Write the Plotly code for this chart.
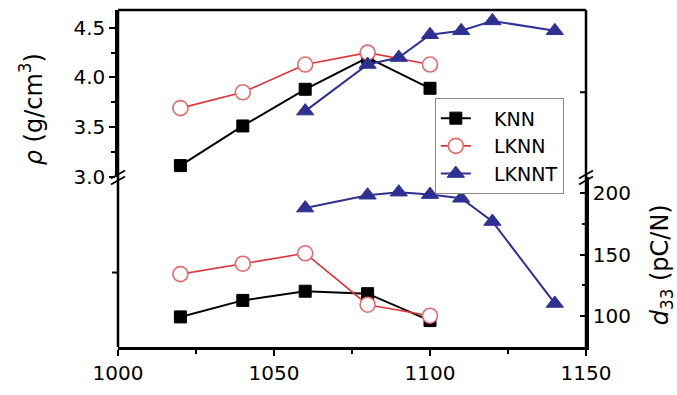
import plotly.graph_objects as go

# ---- data ----
x_knn = [1020, 1040, 1060, 1080, 1100]
x_lknn = [1020, 1040, 1060, 1080, 1100]
x_lknnt = [1060, 1080, 1090, 1100, 1110, 1120, 1140]

rho_knn = [3.11, 3.51, 3.88, 4.20, 3.89]
rho_lknn = [3.69, 3.85, 4.13, 4.25, 4.13]
rho_lknnt = [3.66, 4.13, 4.20, 4.43, 4.47, 4.57, 4.47]

d33_knn = [99, 112.5, 120, 118, 96]
d33_lknn = [134, 142.5, 151, 109, 100]
d33_lknnt = [188, 198.5, 201, 199, 196, 177, 110]

series_names = ["KNN", "LKNN", "LKNNT"]
x_ticks = [1000, 1050, 1100, 1150]
rho_ticks = [3.0, 3.5, 4.0, 4.5]
d33_ticks = [100, 150, 200]

# ---- styles ----
FONT = "DejaVu Sans"
BLACK = "#000000"
RED = "#e0343a"
BLUE = "#2e3192"
styles = {
    "KNN": dict(line=dict(color=BLACK, width=2),
                marker=dict(symbol="square", size=12, color=BLACK, line=dict(color=BLACK, width=1))),
    "LKNN": dict(line=dict(color=RED, width=1.6),
                 marker=dict(symbol="circle", size=15, color="white", line=dict(color="#e26a6a", width=1.6))),
    "LKNNT": dict(line=dict(color=BLUE, width=2),
                  marker=dict(symbol="triangle-up", size=15, color=BLUE, line=dict(color=BLUE, width=1))),
}

fig = go.Figure()
data = {
    "KNN": (x_knn, rho_knn, d33_knn),
    "LKNN": (x_lknn, rho_lknn, d33_lknn),
    "LKNNT": (x_lknnt, rho_lknnt, d33_lknnt),
}
for name in series_names:
    xs, rho, d33 = data[name]
    st = styles[name]
    fig.add_trace(go.Scatter(x=xs, y=rho, mode="lines+markers", name="   " + name, legendgroup=name,
                             line=st["line"], marker=st["marker"], xaxis="x", yaxis="y"))
    fig.add_trace(go.Scatter(x=xs, y=d33, mode="lines+markers", name=name, legendgroup=name,
                             showlegend=False, line=st["line"], marker=st["marker"],
                             xaxis="x", yaxis="y2"))

BRK = 0.503
tickfont = dict(family=FONT, size=20, color=BLACK)
axis_common = dict(showline=True, linecolor=BLACK, linewidth=2.5, showgrid=False, zeroline=False,
                   tickcolor=BLACK, tickwidth=2, tickfont=tickfont)

fig.update_layout(
    width=677, height=395,
    margin=dict(l=118, r=91, t=10, b=41),
    paper_bgcolor="white", plot_bgcolor="white",
    font=dict(family=FONT, color=BLACK),
    xaxis=dict(range=[1000, 1150], domain=[0, 1], anchor="y2", tickvals=x_ticks,
               ticks="outside", ticklen=6,
               minor=dict(tickvals=[1025, 1075, 1125], ticks="outside", ticklen=4, tickcolor=BLACK, tickwidth=2),
               **axis_common),
    yaxis=dict(domain=[BRK, 1], range=[2.99, 4.68], anchor="x", side="left",
               tickvals=rho_ticks, ticktext=["3.0", "3.5", "4.0", "4.5"],
               ticks="outside", ticklen=6,
               minor=dict(tickvals=[3.25, 3.75, 4.25], ticks="outside", ticklen=4, tickcolor=BLACK, tickwidth=2),
               **axis_common),
    yaxis2=dict(domain=[0, BRK], range=[74.4, 213], anchor="x", side="right",
                tickvals=d33_ticks,
                ticks="inside", ticklen=6,
                minor=dict(tickvals=[125, 175], ticks="inside", ticklen=4, tickcolor=BLACK, tickwidth=2),
                **axis_common),
    legend=dict(x=0.677, y=0.738, xanchor="left", yanchor="top", bgcolor="white",
                bordercolor="#888888", borderwidth=1, font=dict(family=FONT, size=19, color=BLACK),
                tracegroupgap=0),
    showlegend=True,
)

frame = dict(color=BLACK, width=2.5)
# frame lines: top, left, right
fig.add_shape(type="line", xref="paper", yref="paper", x0=0, x1=1, y0=1, y1=1, line=frame)
fig.add_shape(type="line", xref="paper", yref="paper", x0=0, x1=0, y0=0, y1=1, line=frame)
fig.add_shape(type="line", xref="paper", yref="paper", x0=1, x1=1, y0=0, y1=1, line=frame)
# lone ticks on the other halves of the frame
fig.add_shape(type="line", xref="paper", yref="paper", xsizemode="pixel", xanchor=0,
              x0=-6, x1=0, y0=0.221, y1=0.221, line=dict(color=BLACK, width=2))
fig.add_shape(type="line", xref="paper", yref="paper", xsizemode="pixel", xanchor=1,
              x0=-6, x1=0, y0=0.756, y1=0.756, line=dict(color=BLACK, width=2))

# axis break marks
for xa in [0, 1]:
    for off in [-3, 3]:
        fig.add_shape(type="line", xref="paper", yref="paper", xsizemode="pixel", ysizemode="pixel",
                      xanchor=xa, yanchor=BRK, x0=-7, x1=7, y0=-4 + off, y1=4 + off,
                      line=dict(color=BLACK, width=1.8))

# axis titles
fig.add_annotation(text="<i>ρ</i> (g/cm<sup>3</sup>)", xref="paper", yref="paper",
                   x=-0.184, y=0.705, textangle=-90, showarrow=False,
                   font=dict(family=FONT, size=24, color=BLACK), xanchor="center", yanchor="middle")
fig.add_annotation(text="<i>d</i><sub>33</sub> (pC/N)", xref="paper", yref="paper",
                   x=1.162, y=0.245, textangle=-90, showarrow=False,
                   font=dict(family=FONT, size=24, color=BLACK), xanchor="center", yanchor="middle")

fig.write_html("out.html")
